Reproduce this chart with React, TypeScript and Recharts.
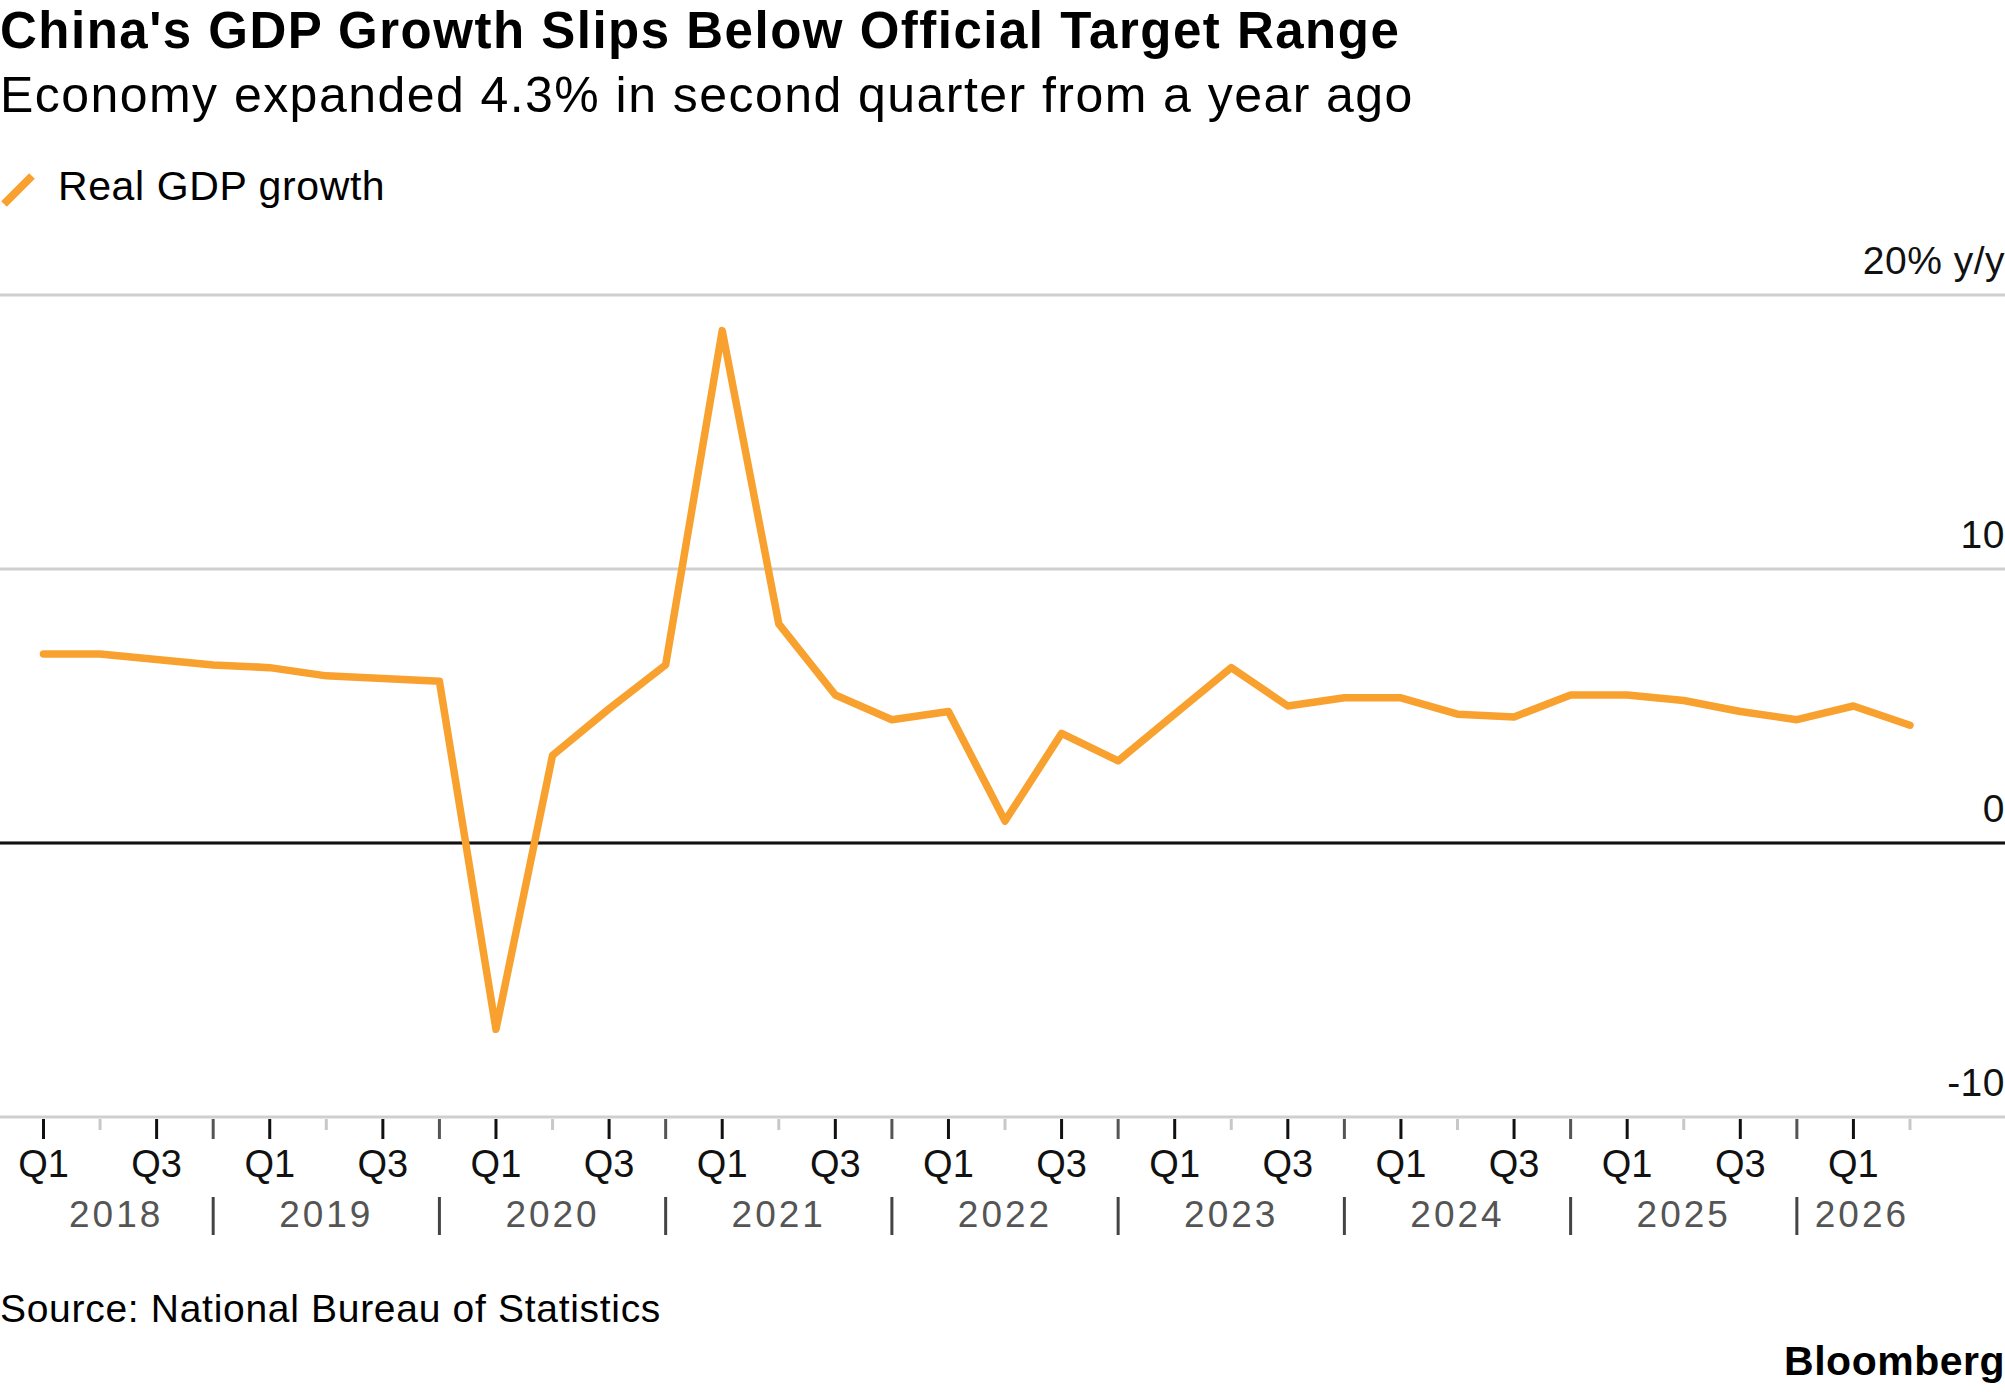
import { LineChart, Line, XAxis, YAxis, CartesianGrid, ReferenceLine } from "recharts"

const years = ["2018", "2019", "2020", "2021", "2022", "2023", "2024", "2025", "2026"]
const quarters = ["Q1", "Q2", "Q3", "Q4"]
// real GDP growth, % y/y, Q1 2018 .. Q2 2026
const gdpGrowth = [
  6.9, 6.9, 6.7, 6.5,
  6.4, 6.1, 6.0, 5.9,
  -6.8, 3.2, 4.9, 6.5,
  18.7, 8.0, 5.4, 4.5,
  4.8, 0.8, 4.0, 3.0,
  4.7, 6.4, 5.0, 5.3,
  5.3, 4.7, 4.6, 5.4,
  5.4, 5.2, 4.8, 4.5,
  5.0, 4.3,
]
const yTicks = [-10, 0, 10, 20]

const data = gdpGrowth.map((growth, i) => ({
  i,
  year: years[Math.floor(i / 4)],
  quarter: quarters[i % 4],
  growth,
}))

const W = 2005
const H = 1392
const PLOT_TOP = 295
const PLOT_BOTTOM = 1117
const XAXIS_H = 130
const X_MIN = -0.769
const X_MAX = 34.68
const YEAR_START = -0.43
const YEAR_END = 33.3
const PX_PER_Q = W / (X_MAX - X_MIN)

const ORANGE = "#f8a12f"
const FONT = "'Liberation Sans', Arial, sans-serif"

function QuarterTick(props: any) {
  const { x, y, payload } = props
  const i = payload.value as number
  const q = i % 4
  const yr = Math.floor(i / 4)

  const tickColor = q === 1 ? "#c8c8c8" : q === 3 ? "#555" : "#111"
  const tickLen = q === 1 ? 11 : 20

  let yearLabel = null
  if (q === 1) {
    const from = Math.max(yr * 4 - 1, YEAR_START)
    const to = Math.min(yr * 4 + 3, YEAR_END)
    const dx = ((from + to) / 2 - i) * PX_PER_Q
    yearLabel = (
      <text x={x + dx} y={y + 110} textAnchor="middle" fontSize={37} fill="#555" letterSpacing={3} fontFamily={FONT}>
        {years[yr]}
      </text>
    )
  }

  return (
    <g>
      <line x1={x} x2={x} y1={y + 2} y2={y + 2 + tickLen} stroke={tickColor} strokeWidth={3} />
      {(q === 0 || q === 2) && (
        <text x={x} y={y + 60} textAnchor="middle" fontSize={38} fill="#111" fontFamily={FONT}>
          {quarters[q]}
        </text>
      )}
      {q === 3 && <line x1={x} x2={x} y1={y + 80} y2={y + 118} stroke="#444" strokeWidth={3} />}
      {yearLabel}
    </g>
  )
}

function ValueTick(props: any) {
  const { x, y, payload } = props
  const v = payload.value as number
  return (
    <text x={x} y={y - 21} textAnchor="end" fontSize={39} letterSpacing={0.5} fill="#111" fontFamily={FONT}>
      {v === 20 ? "20% y/y" : String(v)}
    </text>
  )
}

export default function App() {
  return (
    <div style={{ position: "relative", width: W, height: H, background: "#fff", fontFamily: FONT }}>
      <style>{"body{margin:0;background:#fff}"}</style>
      <LineChart
        width={W}
        height={H}
        data={data}
        margin={{ top: PLOT_TOP, right: 0, bottom: H - PLOT_BOTTOM - XAXIS_H, left: 0 }}
      >
        <CartesianGrid vertical={false} stroke="#cfcfcf" strokeWidth={3} />
        <XAxis
          dataKey="i"
          type="number"
          domain={[X_MIN, X_MAX]}
          allowDataOverflow
          ticks={data.map((d) => d.i)}
          interval={0}
          height={XAXIS_H}
          axisLine={false}
          tickLine={false}
          tickSize={0}
          tickMargin={0}
          tick={<QuarterTick />}
        />
        <YAxis
          orientation="right"
          mirror
          domain={[-10, 20]}
          ticks={yTicks}
          allowDataOverflow
          axisLine={false}
          tickLine={false}
          tickSize={0}
          tickMargin={0}
          tick={<ValueTick />}
        />
        <ReferenceLine y={0} stroke="#111" strokeWidth={3} />
        <Line
          type="linear"
          dataKey="growth"
          stroke={ORANGE}
          strokeWidth={7.5}
          strokeLinejoin="round"
          strokeLinecap="round"
          dot={false}
          activeDot={false}
          isAnimationActive={false}
        />
      </LineChart>

      <svg width={W} height={H} style={{ position: "absolute", left: 0, top: 0, pointerEvents: "none" }}>
        <text x={0} y={48} fontSize={51} fontWeight={700} letterSpacing={1.5} fill="#000" fontFamily={FONT}>
          China's GDP Growth Slips Below Official Target Range
        </text>
        <text x={0} y={112} fontSize={50} letterSpacing={1.45} fill="#000" fontFamily={FONT}>
          Economy expanded 4.3% in second quarter from a year ago
        </text>
        <line x1={4} y1={204} x2={32} y2={176} stroke={ORANGE} strokeWidth={8} />
        <text x={58} y={200} fontSize={41} letterSpacing={0.6} fill="#000" fontFamily={FONT}>
          Real GDP growth
        </text>
        <text x={0} y={1322} fontSize={39} letterSpacing={0.7} fill="#000" fontFamily={FONT}>
          Source: National Bureau of Statistics
        </text>
        <text x={W} y={1375} textAnchor="end" fontSize={41} fontWeight={700} letterSpacing={0.5} fill="#000" fontFamily={FONT}>
          Bloomberg
        </text>
      </svg>
    </div>
  )
}
